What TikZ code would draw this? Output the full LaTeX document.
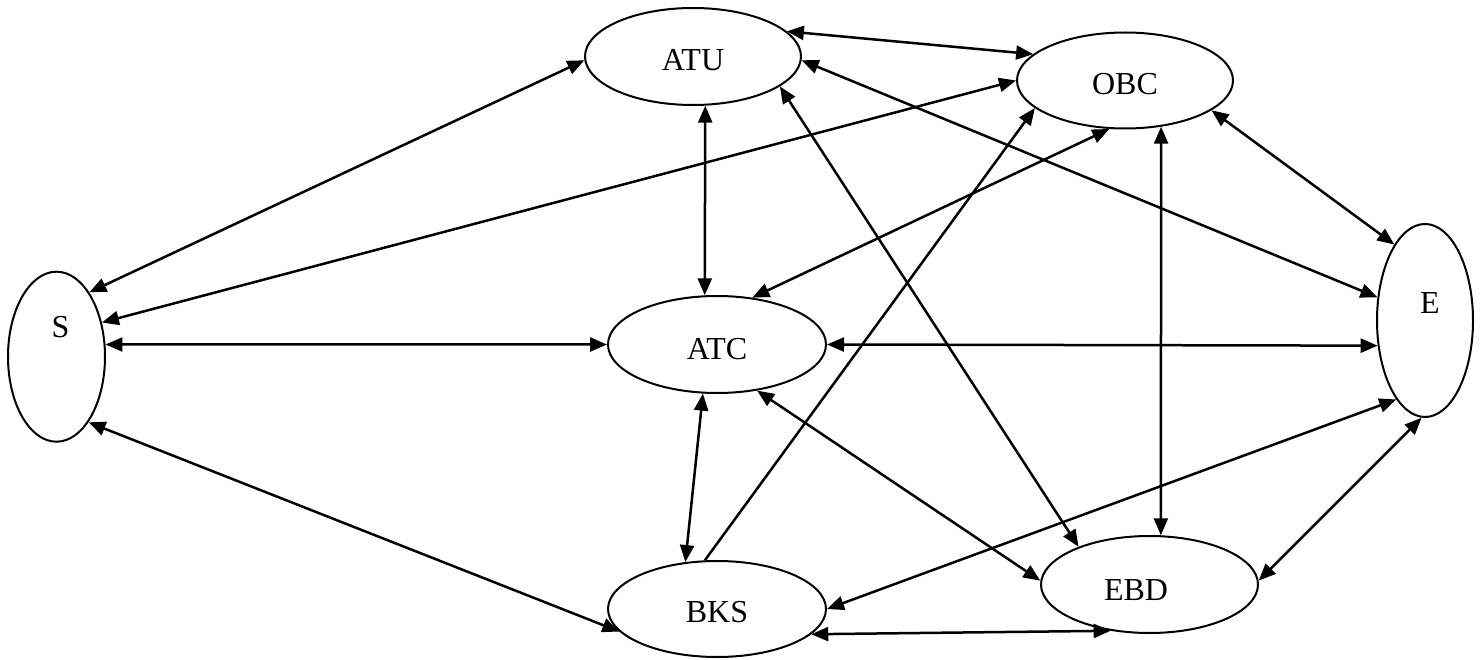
\documentclass[tikz,border=0pt]{standalone}
\usepackage{fontspec}
\setmainfont{Liberation Serif}
\usetikzlibrary{shapes.geometric,arrows.meta}
\begin{document}
\begin{tikzpicture}[x=1pt,y=-1pt,
  ell/.style 2 args={ellipse, draw, line width=2pt, inner sep=0pt, minimum width=#1, minimum height=#2},
  txt/.style={font=\fontsize{32}{38}\selectfont, inner sep=0pt},
  dbl/.style={line width=2.5pt, {Triangle[length=17pt,width=14pt]}-{Triangle[length=17pt,width=14pt]}},
  sgl/.style={line width=2.5pt, -{Triangle[length=17pt,width=14pt]}}]
\useasboundingbox (0,0) rectangle (1481,660);
% nodes
\node[ell={216pt}{97pt}, label={[txt, yshift=-4pt]center:ATU}] (ATU) at (693,56.5) {};
\node[ell={216pt}{96pt}, label={[txt, yshift=-3.5pt]center:OBC}] (OBC) at (1125,80.5) {};
\node[ell={97pt}{170pt}, label={[txt, xshift=4pt, yshift=30pt]center:S}] (S) at (56.5,356.7) {};
\node[ell={218pt}{97pt}, label={[txt, yshift=-4.5pt]center:ATC}] (ATC) at (717,344.5) {};
\node[ell={96pt}{193pt}, label={[txt, xshift=5pt, yshift=17.5pt]center:E}] (E) at (1425,320.5) {};
\node[ell={218pt}{96pt}, label={[txt, yshift=-3.5pt]center:BKS}] (BKS) at (717,609) {};
\node[ell={217pt}{97pt}, label={[txt, xshift=-13.5pt, yshift=-5.5pt]center:EBD}] (EBD) at (1149.5,584.5) {};
% connectors
\draw[dbl] (S.63) -- (ATU.182);
\draw[dbl] (S.37) -- (OBC.180);
\draw[dbl] (S.14) -- (ATC.180);
\draw[dbl] (S.296) -- (BKS.193);
\draw[dbl] (ATU.15) -- (OBC.164);
\draw[dbl] (ATU.284) -- (ATC.104);
\draw[dbl] (ATU.358) -- (E.154);
\draw[dbl] (ATU.341) -- (EBD.152);
\draw[dbl] (OBC.252) -- (ATC.53);
\draw[sgl] (BKS.104) -- (OBC.197);
\draw[dbl] (OBC.308) -- (EBD.77);
\draw[dbl] (OBC.341) -- (E.112);
\draw[dbl] (ATC.0) -- (E.208);
\draw[dbl] (ATC.254) -- (BKS.124);
\draw[dbl] (ATC.311) -- (EBD.178);
\draw[dbl] (E.250) -- (BKS.0);
\draw[dbl] (E.268) -- (EBD.2);
\draw[dbl] (BKS.345) -- (EBD.230);
\end{tikzpicture}
\end{document}
